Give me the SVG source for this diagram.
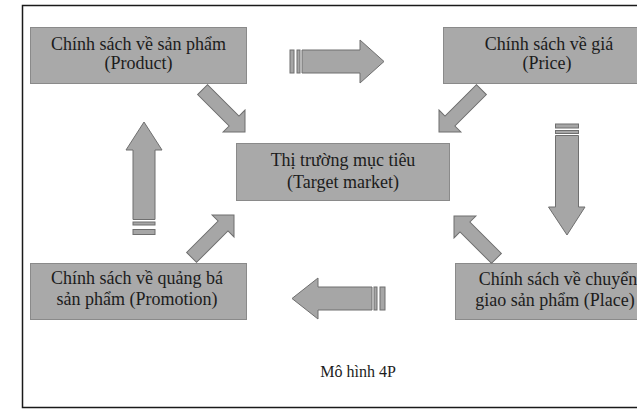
<svg xmlns="http://www.w3.org/2000/svg" width="637" height="410" viewBox="0 0 637 410">
  <defs>
    <style>
      .box { fill: #a9a9a9; stroke: #8a8a8a; stroke-width: 1; }
      .arr { fill: #a6a6a6; stroke: #6f6f6f; stroke-width: 1; stroke-linejoin: miter; }
      .lbl { font-family: "Liberation Serif", "Times New Roman", serif; font-size: 18px; fill: #1c1c1c; text-anchor: middle; }
      .cap { font-family: "Liberation Serif", "Times New Roman", serif; font-size: 16px; fill: #1c1c1c; text-anchor: middle; }
    </style>
    <path id="diag" d="M0,0 L-15.5,-15.5 L-15.5,-7 L-60,-7 L-60,7 L-15.5,7 L-15.5,15.5 Z"/>
  </defs>

  <rect x="0" y="0" width="637" height="410" fill="#ffffff"/>
  <rect x="22.5" y="5.5" width="640" height="402" fill="none" stroke="#1a1a1a" stroke-width="1.5"/>

  <g id="product">
    <rect class="box" x="30.5" y="27.5" width="216" height="56"/>
    <text class="lbl" x="138.5" y="50">Chính sách về sản phẩm</text>
    <text class="lbl" x="138.5" y="69">(Product)</text>
  </g>

  <g id="price">
    <rect class="box" x="443.5" y="27.5" width="212" height="56"/>
    <text class="lbl" x="549" y="50">Chính sách về giá</text>
    <text class="lbl" x="547" y="69">(Price)</text>
  </g>

  <g id="target">
    <rect class="box" x="236.5" y="143.5" width="213" height="57"/>
    <text class="lbl" x="343" y="166">Thị trường mục tiêu</text>
    <text class="lbl" x="343" y="188">(Target market)</text>
  </g>

  <g id="promotion">
    <rect class="box" x="30.5" y="263.5" width="216" height="56"/>
    <text class="lbl" x="137" y="284">Chính sách về quảng bá</text>
    <text class="lbl" x="137" y="305">sản phẩm (Promotion)</text>
  </g>

  <g id="place">
    <rect class="box" x="455.5" y="263.5" width="216" height="56"/>
    <text class="lbl" x="558" y="285">Chính sách về chuyển</text>
    <text class="lbl" x="555" y="306">giao sản phẩm (Place)</text>
  </g>

  <g id="connectors">
    <!-- top: product -> price (striped right arrow) -->
    <rect class="arr" x="290" y="50" width="4" height="23"/>
    <rect class="arr" x="297" y="50" width="3" height="23"/>
    <path class="arr" d="M302,50 L360,50 L360,40 L384,61.5 L360,83 L360,73 L302,73 Z"/>

    <!-- right: price -> place (striped down arrow) -->
    <rect class="arr" x="555.5" y="124" width="23" height="4"/>
    <rect class="arr" x="555.5" y="130.5" width="23" height="3"/>
    <path class="arr" d="M555.5,135.5 L578.5,135.5 L578.5,207 L585,207 L567,235 L548.5,207 L555.5,207 Z"/>

    <!-- bottom: place -> promotion (striped left arrow) -->
    <rect class="arr" x="380" y="287" width="5" height="23"/>
    <rect class="arr" x="374" y="287" width="3" height="23"/>
    <path class="arr" d="M372,287 L318,287 L318,278 L292,298.5 L318,319 L318,310 L372,310 Z"/>

    <!-- left: promotion -> product (striped up arrow) -->
    <rect class="arr" x="133" y="229.5" width="22" height="5"/>
    <rect class="arr" x="133" y="222" width="22" height="3"/>
    <path class="arr" d="M133,219.5 L133,150 L126,150 L144,122 L162,150 L155,150 L155,219.5 Z"/>

    <!-- diagonal arrows towards target market -->
    <use href="#diag" class="arr" transform="translate(245,132) rotate(45)"/>
    <use href="#diag" class="arr" transform="translate(439,132) rotate(135)"/>
    <use href="#diag" class="arr" transform="translate(234,215) rotate(-45)"/>
    <use href="#diag" class="arr" transform="translate(454,216) rotate(-135)"/>
  </g>

  <text class="cap" x="358" y="377">Mô hình 4P</text>
</svg>
